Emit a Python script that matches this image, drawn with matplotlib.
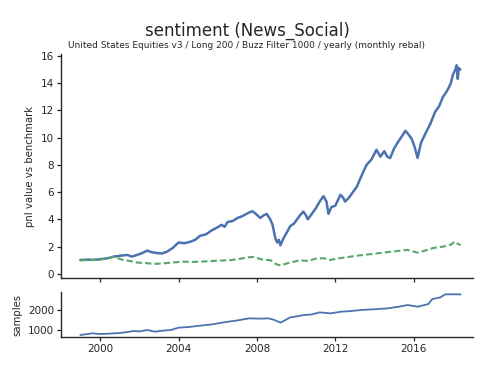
import matplotlib
matplotlib.use("Agg")
import matplotlib.pyplot as plt

# ---- data ----
pnl_t = [1999.0, 1999.3, 1999.6, 1999.85, 2000.1, 2000.4, 2000.7, 2000.9, 2001.1, 2001.4,
         2001.6, 2001.8, 2002.1, 2002.4, 2002.6, 2002.9, 2003.15, 2003.4, 2003.7, 2004.0,
         2004.3, 2004.6, 2004.85, 2005.1, 2005.4, 2005.7, 2005.97, 2006.2, 2006.35, 2006.5,
         2006.8, 2007.0, 2007.2, 2007.4, 2007.6, 2007.76, 2007.95, 2008.17, 2008.35, 2008.5,
         2008.68, 2008.8, 2008.94, 2009.04, 2009.12, 2009.2, 2009.35, 2009.55, 2009.7, 2009.9,
         2010.2, 2010.37, 2010.5, 2010.6, 2010.8, 2011.0, 2011.2, 2011.4, 2011.55, 2011.65,
         2011.8, 2012.0, 2012.26, 2012.4, 2012.5, 2012.7, 2012.9, 2013.1, 2013.4, 2013.6,
         2013.85, 2014.1, 2014.3, 2014.5, 2014.65, 2014.8, 2015.0, 2015.17, 2015.4, 2015.58,
         2015.75, 2015.9, 2016.05, 2016.2, 2016.37, 2016.6, 2016.85, 2017.1, 2017.3, 2017.5,
         2017.65, 2017.77, 2017.9, 2018.0, 2018.1, 2018.2, 2018.25, 2018.3, 2018.37]
pnl_v = [1.02, 1.05, 1.03, 1.05, 1.1, 1.15, 1.27, 1.3, 1.35, 1.39,
         1.27, 1.35, 1.5, 1.71, 1.6, 1.53, 1.5, 1.62, 1.9, 2.3,
         2.25, 2.36, 2.5, 2.8, 2.9, 3.2, 3.4, 3.6, 3.45, 3.8,
         3.9, 4.1, 4.2, 4.35, 4.5, 4.6, 4.4, 4.1, 4.3, 4.4,
         4.0, 3.6, 2.6, 2.3, 2.5, 2.1, 2.6, 3.1, 3.5, 3.7,
         4.3, 4.57, 4.3, 4.0, 4.4, 4.8, 5.3, 5.7, 5.3, 4.4,
         4.9, 5.0, 5.8, 5.6, 5.3, 5.6, 6.0, 6.4, 7.4, 8.0,
         8.4, 9.1, 8.6, 9.0, 8.6, 8.5, 9.2, 9.6, 10.1, 10.5,
         10.2, 9.9, 9.3, 8.5, 9.6, 10.3, 11.0, 11.9, 12.3, 13.0,
         13.3, 13.6, 14.0, 14.6, 14.9, 15.3, 14.3, 15.1, 15.0]

bench_t = [1999.0, 1999.5, 2000.0, 2000.4, 2000.7, 2001.1, 2001.5, 2001.9, 2002.3, 2002.7,
           2003.1, 2003.6, 2004.2, 2004.8, 2005.4, 2006.0, 2006.6, 2007.1, 2007.5, 2007.8,
           2008.3, 2008.7, 2009.0, 2009.2, 2009.6, 2010.2, 2010.6, 2011.0, 2011.4, 2011.75,
           2012.2, 2012.7, 2013.2, 2013.8, 2014.45, 2015.0, 2015.68, 2016.2, 2016.6, 2017.0,
           2017.5, 2017.9, 2018.1, 2018.25, 2018.4]
bench_v = [1.0, 1.02, 1.05, 1.15, 1.25, 1.05, 0.95, 0.83, 0.8, 0.73,
           0.76, 0.82, 0.9, 0.88, 0.92, 0.97, 1.0, 1.1, 1.2, 1.25,
           1.05, 1.0, 0.7, 0.62, 0.8, 1.0, 0.95, 1.12, 1.15, 1.02,
           1.15, 1.25, 1.35, 1.45, 1.56, 1.65, 1.76, 1.56, 1.72, 1.9,
           2.0, 2.15, 2.37, 2.2, 2.12]

samp_t = [1999.0, 1999.6, 2000.0, 2000.5, 2001.0, 2001.4, 2001.7, 2002.0, 2002.4, 2002.8,
          2003.2, 2003.6, 2004.0, 2004.5, 2005.1, 2005.7, 2006.3, 2007.0, 2007.6, 2008.1,
          2008.6, 2008.9, 2009.2, 2009.7, 2010.0, 2010.4, 2010.8, 2011.2, 2011.75, 2012.3,
          2012.8, 2013.3, 2014.0, 2014.65, 2015.2, 2015.7, 2016.2, 2016.75, 2016.95, 2017.36,
          2017.6, 2018.0, 2018.38]
samp_v = [750, 833, 800, 820, 850, 900, 950, 930, 1000, 917,
          970, 1000, 1117, 1150, 1217, 1280, 1383, 1480, 1583, 1570,
          1583, 1500, 1367, 1633, 1680, 1750, 1780, 1883, 1833, 1917,
          1950, 2000, 2040, 2083, 2160, 2250, 2167, 2300, 2550, 2633,
          2783, 2790, 2783]

blue = "#4C72B0"
green = "#55A868"
dark = "#262626"

plt.rcParams["font.family"] = ["DejaVu Sans"]
fig = plt.figure(figsize=(4.99, 3.73), dpi=100)
ax = fig.add_axes([0.1222, 0.2547, 0.8258, 0.6003])
ax2 = fig.add_axes([0.1222, 0.0965, 0.8258, 0.1205])

ax.plot(pnl_t, pnl_v, color=blue, lw=1.8)
ax.plot(bench_t, bench_v, color=green, lw=1.5, ls="--", dashes=(3, 1.5))
ax2.plot(samp_t, samp_v, color=blue, lw=1.3)

for a in (ax, ax2):
    a.set_xlim(1998.0, 2019.03)
    a.set_xticks([2000, 2004, 2008, 2012, 2016])
    for s in ("top", "right"):
        a.spines[s].set_visible(False)
    for s in ("left", "bottom"):
        a.spines[s].set_color(dark)
        a.spines[s].set_linewidth(1.0)
    a.tick_params(direction="out", length=3, width=0.9, color=dark,
                  labelcolor=dark, labelsize=7.5, pad=2)

ax.set_ylim(-0.3, 16.12)
ax.set_yticks([0, 2, 4, 6, 8, 10, 12, 14, 16])
ax.set_xticklabels([])
ax.set_ylabel("pnl value vs benchmark", fontsize=7.3, color=dark, labelpad=4)

ax2.set_ylim(650, 2900)
ax2.set_yticks([1000, 2000])
ax2.set_ylabel("samples", fontsize=7.3, color=dark, labelpad=4)

fig.text(0.495, 0.918, "sentiment (News_Social)", ha="center", va="center",
         fontsize=12.0, color=dark)
fig.text(0.493, 0.878, "United States Equities v3 / Long 200 / Buzz Filter 1000 / yearly (monthly rebal)",
         ha="center", va="center", fontsize=6.5, color=dark)

fig.savefig("out.png", dpi=100)
